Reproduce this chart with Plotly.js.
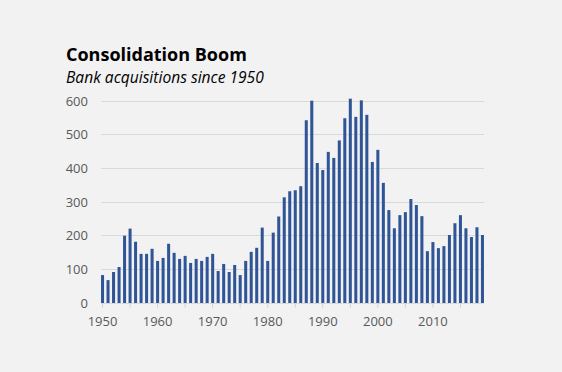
<!DOCTYPE html>
<html>
<head>
<meta charset="utf-8">
<script src="https://cdn.plot.ly/plotly-3.0.1.min.js"></script>
<style>
html,body{margin:0;padding:0;background:#f2f2f2;}
#chart{width:562px;height:372px;}
</style>
</head>
<body>
<div id="chart"></div>
<script>
const years = [];
for (let y = 1950; y <= 2019; y++) years.push(y);

const acquisitions = [
  83, 68, 92, 107, 200, 221, 182, 146, 146, 161,
  125, 134, 176, 149, 131, 140, 119, 131, 125, 137,
  146, 95, 116, 92, 113, 83, 125, 152, 164, 224,
  125, 209, 257, 314, 332, 335, 347, 543, 601, 416,
  395, 449, 431, 483, 549, 607, 553, 602, 559, 419,
  455, 357, 276, 222, 261, 270, 309, 291, 258, 154,
  181, 163, 169, 202, 237, 261, 222, 196, 225, 202
];

const yTicks = [0, 100, 200, 300, 400, 500, 600];
const xTickVals = [1950, 1960, 1970, 1980, 1990, 2000, 2010];
const minorTickVals = [1955, 1965, 1975, 1985, 1995, 2005, 2015];
const titleText = "Consolidation Boom";
const subtitleText = "Bank acquisitions since 1950";

const font = '"Open Sans", "Noto Sans", sans-serif';

const trace = {
  type: 'bar',
  x: years,
  y: acquisitions,
  marker: {color: '#2f5597'},
  width: 0.55,
  hoverinfo: 'x+y'
};

const layout = {
  width: 562,
  height: 372,
  paper_bgcolor: '#f2f2f2',
  plot_bgcolor: '#f2f2f2',
  margin: {l: 101, r: 78, t: 97, b: 69, pad: 0},
  showlegend: false,
  font: {family: font, color: '#595959', size: 13},
  xaxis: {
    range: [1949.72, 2019.28],
    tickmode: 'array',
    tickvals: xTickVals,
    ticktext: xTickVals.map(String),
    showgrid: false,
    zeroline: false,
    showline: true,
    linecolor: '#d9d9d9',
    linewidth: 1,
    ticks: '',
    tickfont: {family: font, size: 13, color: '#595959'},
    ticklabelstandoff: 6
  },
  yaxis: {
    range: [0, 612],
    tickmode: 'array',
    tickvals: yTicks,
    ticktext: yTicks.map(String),
    showgrid: true,
    gridcolor: '#d9d9d9',
    gridwidth: 1,
    zeroline: false,
    showline: false,
    ticks: '',
    tickfont: {family: font, size: 13, color: '#595959'},
    ticklabelstandoff: 12
  },
  shapes: minorTickVals.concat(xTickVals).map(v => ({
    type: 'line', xref: 'x', yref: 'paper', x0: v, x1: v, y0: 0, y1: -0.022,
    line: {color: '#d0d0d0', width: 1}
  })),
  annotations: [
    {
      text: '<b>' + titleText + '</b>',
      xref: 'paper', yref: 'paper',
      x: -0.097, y: 1.14, xanchor: 'left', yanchor: 'bottom',
      showarrow: false,
      font: {family: font, size: 18, color: '#000000'}
    },
    {
      text: '<i>' + subtitleText + '</i>',
      xref: 'paper', yref: 'paper',
      x: -0.097, y: 1.036, xanchor: 'left', yanchor: 'bottom',
      showarrow: false,
      font: {family: font, size: 15.6, color: '#000000'}
    }
  ]
};

Plotly.newPlot('chart', [trace], layout, {displayModeBar: false, staticPlot: true});
</script>
</body>
</html>
